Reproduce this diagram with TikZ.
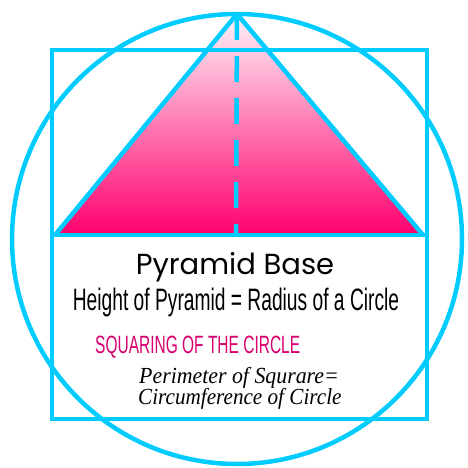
\documentclass[tikz,border=0pt]{standalone}
\usepackage{fontspec}
\setmainfont{Liberation Serif}
\newfontfamily\geofont{Poppins}
\newfontfamily\narrowfont{Liberation Sans}
\usepackage{xcolor}
\usepackage{tikz}
\usetikzlibrary{positioning}
\definecolor{skyline}{RGB}{0,204,255}
\definecolor{pyrpink}{RGB}{255,0,110}
\definecolor{pyrmid}{RGB}{255,168,204}
\definecolor{pyrtop}{RGB}{255,244,249}
\definecolor{titlepink}{RGB}{214,0,110}

\begin{document}
\begin{tikzpicture}[x=1pt, y=-1pt,
    frame/.style={draw=skyline, line width=4.5pt},
    axisline/.style={draw=skyline, line width=4.5pt, dash pattern=on 26pt off 16pt},
    lbl/.style={inner sep=0pt, text=black},
]
\useasboundingbox (0,0) rectangle (468,468);

\coordinate (apex) at (237,14);
\coordinate (bl) at (55,235);
\coordinate (br) at (423,235);
\coordinate (foot) at (236,235);
\coordinate (sqnw) at (52,50);
\coordinate (sqse) at (427,419);
\coordinate (basew) at (52,235);
\coordinate (basee) at (427,235);

% pyramid face
\shade[top color=pyrtop, middle color=pyrmid, bottom color=pyrpink]
    (bl) -- (apex) -- (br) -- cycle;

\draw[frame] (sqnw) rectangle (sqse);
\draw[frame] (basew) -- (basee);
\draw[frame] (237,239) circle (225);
\draw[frame, line join=round] (bl) -- (apex) -- (br);
\draw[axisline] (apex) -- (foot);

\node[lbl, anchor=base, font=\geofont\fontsize{29}{31}\selectfont] (base) at (235,274) {Pyramid Base};
\node[lbl, anchor=base, font=\narrowfont\fontsize{31}{33}\selectfont] (height) at (236,310)
    {\scalebox{0.62}[1]{Height of Pyramid = Radius of a Circle}};
\node[lbl, anchor=base west, text=titlepink, font=\narrowfont\fontsize{25}{27}\selectfont] (squaring) at (95,353)
    {\scalebox{0.62}[1]{SQUARING OF THE CIRCLE}};
\node[lbl, anchor=base west, font=\itshape\fontsize{23}{25}\selectfont] (perim) at (139,383)
    {\scalebox{0.95}[1]{Perimeter of Squrare=}};
\node[lbl, anchor=base west, font=\itshape\fontsize{23}{25}\selectfont] (circum) at (138,404)
    {\scalebox{0.92}[1]{Circumference of Circle}};
\end{tikzpicture}
\end{document}
